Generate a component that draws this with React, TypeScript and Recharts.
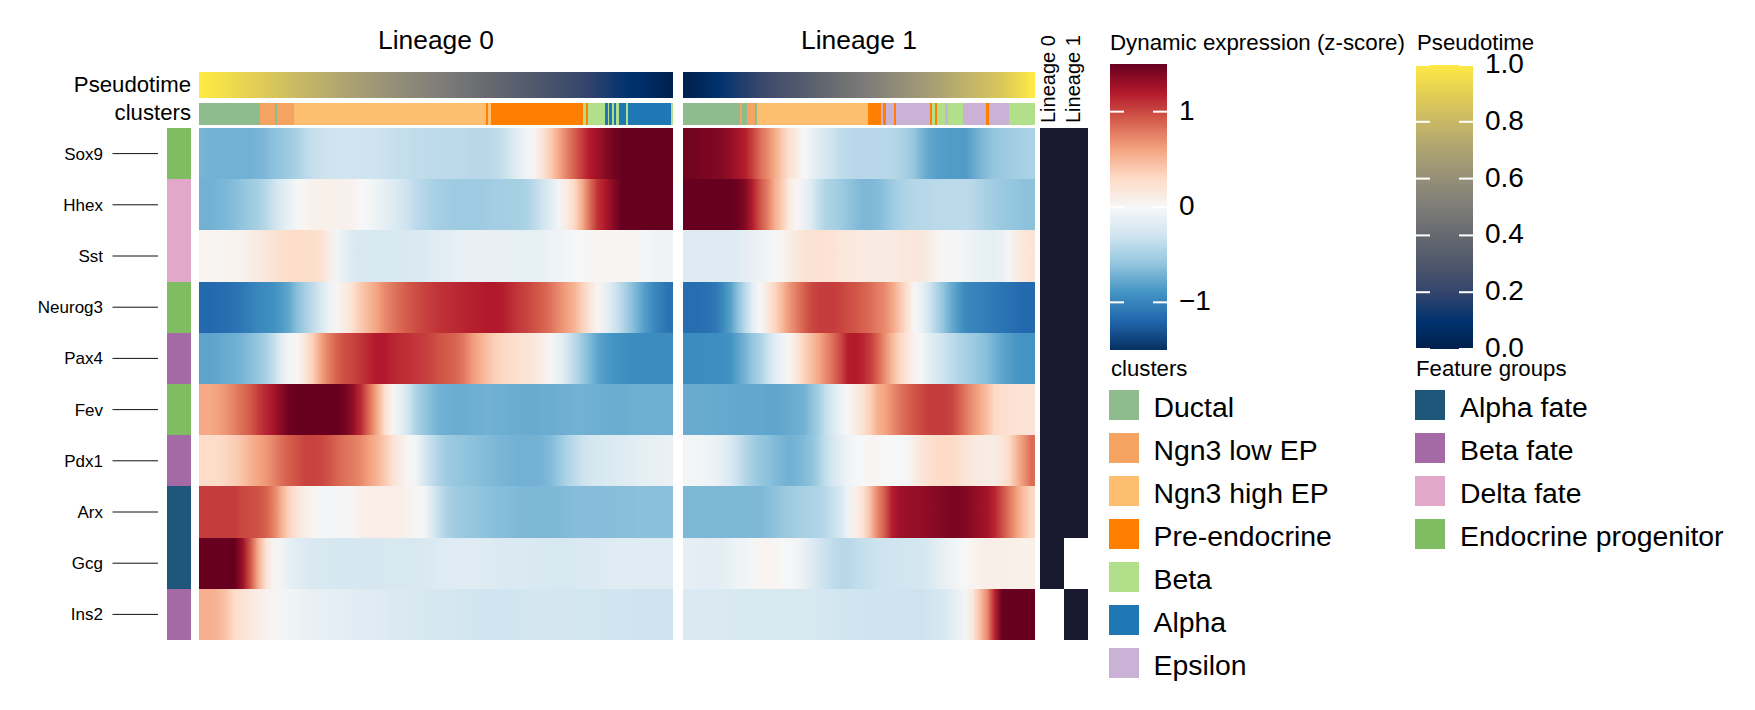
import { Bar, BarChart, Cell, XAxis, YAxis } from "recharts"

const genes = ["Sox9", "Hhex", "Sst", "Neurog3", "Pax4", "Fev", "Pdx1", "Arx", "Gcg", "Ins2"]

// z-scores, one row per gene, left to right
const lineage0 = [
  [-.70,-.72,-.72,-.72,-.72,-.72,-.72,-.70,-.67,-.62, -.58,-.54,-.48,-.40,-.35,-.33,-.31,-.30,-.30,-.30, -.31,-.31,-.32,-.33,-.35,-.36,-.37,-.38,-.38,-.39, -.40,-.40,-.40,-.41,-.42,-.42,-.42,-.40,-.35,-.25, -.14,-.05,.05,.20,.38,.58,.75,.90,1.05,1.20, 1.28,1.38,1.45,1.50,1.50,1.50,1.50,1.50,1.50,1.50],
  [-.72,-.72,-.70,-.68,-.64,-.60,-.55,-.50,-.42,-.32, -.20,-.10,-.02,.03,.07,.08,.08,.07,.07,.05, .00,-.03,-.08,-.14,-.20,-.26,-.32,-.40,-.44,-.48, -.52,-.53,-.54,-.54,-.54,-.54,-.53,-.52,-.52,-.51, -.50,-.47,-.40,-.30,-.18,-.05,.12,.30,.55,.85, 1.10,1.22,1.38,1.50,1.50,1.50,1.50,1.50,1.50,1.50],
  [.03,.03,.03,.04,.05,.07,.10,.14,.18,.22, .26,.28,.28,.28,.27,.24,.10,-.05,-.15,-.22, -.25,-.25,-.25,-.25,-.24,-.24,-.24,-.23,-.21,-.19, -.18,-.16,-.14,-.13,-.12,-.11,-.11,-.12,-.12,-.13, -.14,-.14,-.13,-.11,-.09,-.06,-.04,-.02,.00,.02, .03,.03,.03,.03,.03,.02,-.02,-.05,-.06,-.06],
  [-1.18,-1.18,-1.16,-1.15,-1.12,-1.08,-1.03,-.98,-.95,-.92, -.85,-.77,-.62,-.50,-.38,-.24,-.08,.03,.12,.25, .40,.50,.60,.72,.80,.87,.93,.98,1.02,1.06, 1.09,1.11,1.13,1.15,1.17,1.18,1.20,1.20,1.18,1.12, 1.06,1.02,.96,.90,.82,.72,.62,.52,.36,.18, .03,-.12,-.28,-.42,-.58,-.72,-.85,-.96,-1.05,-1.12],
  [-.80,-.80,-.78,-.75,-.74,-.70,-.64,-.58,-.50,-.36, -.14,-.04,.03,.18,.38,.62,.78,.90,.98,1.02, 1.08,1.14,1.20,1.20,1.15,1.12,1.10,1.07,1.04,1.00, .95,.92,.88,.80,.66,.55,.45,.36,.31,.27, .23,.20,.16,.10,.02,-.10,-.25,-.40,-.55,-.68, -.80,-.86,-.90,-.92,-.94,-.95,-.95,-.95,-.95,-.95],
  [.58,.58,.62,.68,.76,.85,.92,1.05,1.15,1.25, 1.38,1.48,1.50,1.50,1.50,1.50,1.50,1.50,1.44,1.32, 1.12,.85,.58,.26,.04,-.12,-.30,-.48,-.58,-.66, -.72,-.74,-.75,-.75,-.74,-.73,-.72,-.73,-.74,-.75, -.75,-.76,-.76,-.75,-.75,-.74,-.73,-.72,-.72,-.73, -.74,-.75,-.75,-.75,-.74,-.74,-.74,-.74,-.74,-.74],
  [.28,.28,.30,.33,.38,.44,.52,.60,.66,.75, .85,.92,.97,1.02,1.02,1.00,.95,.88,.82,.78, .72,.62,.52,.40,.22,.12,.02,-.05,-.25,-.38, -.48,-.55,-.58,-.60,-.62,-.64,-.66,-.68,-.70,-.71, -.72,-.72,-.72,-.70,-.66,-.58,-.48,-.40,-.33,-.28, -.25,-.23,-.21,-.20,-.18,-.16,-.14,-.12,-.11,-.10],
  [1.05,1.05,1.05,1.05,1.05,1.00,.98,.96,.90,.75, .52,.32,.18,.10,.03,-.02,-.03,-.03,-.02,.03, .08,.09,.10,.10,.10,.09,.06,.02,-.04,-.20, -.38,-.48,-.54,-.56,-.58,-.60,-.62,-.64,-.65,-.66, -.67,-.68,-.68,-.68,-.68,-.67,-.66,-.65,-.65,-.65, -.65,-.65,-.64,-.64,-.64,-.63,-.63,-.63,-.63,-.63],
  [1.50,1.50,1.50,1.50,1.50,1.30,.95,.55,.20,.03, -.06,-.14,-.18,-.21,-.24,-.25,-.25,-.26,-.27,-.26, -.26,-.26,-.26,-.25,-.25,-.25,-.25,-.25,-.24,-.22, -.20,-.19,-.18,-.18,-.19,-.20,-.20,-.21,-.22,-.22, -.23,-.23,-.24,-.24,-.24,-.25,-.25,-.24,-.23,-.22, -.21,-.20,-.19,-.19,-.18,-.18,-.18,-.18,-.18,-.18],
  [.55,.55,.50,.42,.28,.22,.16,.10,.06,.02, -.03,-.05,-.07,-.10,-.12,-.13,-.14,-.15,-.16,-.17, -.18,-.19,-.20,-.20,-.22,-.23,-.24,-.25,-.25,-.26, -.26,-.27,-.28,-.28,-.29,-.30,-.30,-.30,-.30,-.30, -.29,-.29,-.28,-.28,-.28,-.28,-.28,-.29,-.29,-.29, -.29,-.30,-.30,-.30,-.30,-.31,-.31,-.31,-.31,-.31],
]

const lineage1 = [
  [1.45,1.45,1.42,1.42,1.40,1.38,1.32,1.25,1.18,1.02, .85,.72,.58,.40,.24,.12,.00,-.10,-.20,-.26, -.32,-.38,-.40,-.42,-.42,-.42,-.42,-.42,-.44,-.46, -.52,-.58,-.70,-.78,-.82,-.84,-.85,-.85,-.85,-.78, -.70,-.64,-.58,-.56,-.54,-.52,-.50,-.48],
  [1.50,1.50,1.50,1.50,1.50,1.50,1.50,1.47,1.38,1.18, .95,.78,.55,.38,.12,.03,-.10,-.20,-.36,-.46, -.50,-.54,-.60,-.64,-.68,-.68,-.66,-.62,-.55,-.50, -.46,-.44,-.42,-.42,-.41,-.41,-.40,-.40,-.40,-.42, -.47,-.50,-.53,-.56,-.58,-.60,-.62,-.62],
  [-.20,-.20,-.20,-.20,-.20,-.20,-.20,-.18,-.15,-.11, -.08,-.05,-.02,.03,.10,.16,.21,.23,.23,.22, .20,.18,.16,.15,.14,.13,.13,.13,.14,.15, .17,.18,.17,.12,.05,.02,-.02,-.03,-.05,-.08, -.11,-.14,-.14,-.10,-.03,.12,.18,.20],
  [-1.15,-1.15,-1.14,-1.12,-1.08,-.96,-.82,-.62,-.40,-.15, -.02,.15,.32,.48,.66,.78,.90,1.00,1.04,1.05, 1.05,1.02,.98,.95,.90,.85,.78,.72,.60,.42, .25,.02,-.10,-.28,-.45,-.60,-.75,-.86,-.96,-1.00, -1.02,-1.05,-1.08,-1.10,-1.13,-1.16,-1.18,-1.18],
  [-.95,-.95,-.95,-.94,-.94,-.93,-.90,-.80,-.70,-.58, -.48,-.34,-.18,-.06,.02,.18,.34,.46,.58,.72, .85,1.00,1.18,1.20,1.15,1.05,.90,.70,.50,.32, .20,.04,-.02,-.14,-.24,-.32,-.38,-.45,-.50,-.55, -.60,-.65,-.72,-.80,-.84,-.88,-.90,-.90],
  [-.76,-.76,-.76,-.76,-.77,-.77,-.77,-.78,-.78,-.78, -.78,-.79,-.79,-.78,-.76,-.74,-.72,-.62,-.52,-.35, -.22,-.08,.00,.12,.22,.35,.52,.60,.70,.80, .88,.95,1.00,1.04,1.05,1.05,1.03,.92,.80,.68, .58,.45,.30,.26,.24,.22,.20,.20],
  [-.03,-.03,-.04,-.06,-.10,-.15,-.24,-.34,-.44,-.52, -.58,-.62,-.66,-.70,-.72,-.70,-.66,-.62,-.50,-.36, -.25,-.15,-.06,-.02,.00,.02,.03,.00,-.02,-.02, -.01,.10,.18,.24,.28,.30,.30,.26,.20,.16, .14,.12,.12,.18,.30,.50,.68,.85],
  [-.68,-.68,-.68,-.68,-.68,-.68,-.68,-.68,-.68,-.68, -.68,-.65,-.62,-.58,-.55,-.52,-.50,-.48,-.46,-.42, -.34,-.26,-.06,.10,.20,.45,.72,.92,1.18,1.28, 1.30,1.32,1.33,1.35,1.37,1.40,1.42,1.42,1.40,1.35, 1.30,1.25,1.15,.98,.80,.62,.45,.32],
  [-.14,-.15,-.16,-.16,-.16,-.15,-.10,-.07,-.05,-.03, .03,.04,.03,.00,-.02,-.05,-.12,-.20,-.28,-.34, -.38,-.42,-.42,-.38,-.36,-.34,-.32,-.31,-.30,-.30, -.29,-.28,-.27,-.24,-.18,-.12,-.08,-.04,.00,.04, .08,.10,.10,.09,.09,.08,.08,.08],
  [-.22,-.22,-.22,-.22,-.22,-.23,-.24,-.24,-.24,-.24, -.24,-.24,-.24,-.25,-.25,-.25,-.25,-.25,-.26,-.27, -.28,-.29,-.30,-.30,-.31,-.31,-.31,-.31,-.31,-.32, -.32,-.32,-.32,-.30,-.28,-.25,-.18,-.10,-.03,.15, .45,.72,1.15,1.50,1.50,1.50,1.50,1.50],
]

const pseudotime0 = [1,.985,.97,.955,.94,.92,.905,.89,.875,.855, .84,.82,.805,.79,.77,.755,.74,.72,.705,.69, .67,.655,.64,.62,.605,.59,.57,.555,.54,.52, .505,.49,.47,.455,.44,.42,.405,.39,.37,.355, .34,.32,.305,.29,.27,.255,.24,.22,.205,.19, .17,.155,.13,.115,.1,.085,.07,.05,.03,.01]
const pseudotime1 = [.01,.03,.05,.07,.09,.11,.13,.15,.17,.19, .21,.23,.25,.27,.29,.31,.33,.35,.37,.39, .41,.43,.45,.47,.49,.51,.53,.55,.57,.59, .61,.63,.65,.67,.69,.71,.73,.75,.77,.79, .81,.83,.85,.87,.9,.93,.96,1]

const clusterNames = ["Ductal", "Ngn3 low EP", "Ngn3 high EP", "Pre-endocrine", "Beta", "Alpha", "Epsilon"]
const clusterColors = ["#8fbc8f", "#f4a460", "#fdbf6f", "#ff7f00", "#b2df8a", "#1f78b4", "#cab2d6"]

// runs of cells along pseudotime: cluster index, then share of the strip
const clusterRuns0: [number, number][] = [[0,61],[1,15],[0,2],[1,17],[2,192],[3,2],[2,3],[3,92],[4,3],[3,2],[4,17],[5,3],[4,1.3],[5,3],[4,1.7],[5,2.3],[4,3],[5,7],[4,2],[5,43],[4,2]]
const clusterRuns1: [number, number][] = [[0,57],[1,2],[0,5],[1,8],[0,2],[2,111],[3,13],[6,2],[3,3],[6,8],[3,2],[6,34],[3,2],[4,3],[3,2],[4,8],[6,3],[4,15],[6,23],[3,3],[6,20],[4,26]]

const groupNames = ["Alpha fate", "Beta fate", "Delta fate", "Endocrine progenitor"]
const groupColors = ["#1f577b", "#a569a5", "#e1a8c9", "#7fbc62"]
const geneGroups = [3, 2, 2, 3, 1, 3, 1, 0, 0, 1]

const inLineage0 = [1, 1, 1, 1, 1, 1, 1, 1, 1, 0]
const inLineage1 = [1, 1, 1, 1, 1, 1, 1, 1, 0, 1]

const zTicks = [-1, 0, 1]
const ptTicks = [0, 0.2, 0.4, 0.6, 0.8, 1]

const rdbu = ["#053061", "#2166ac", "#4393c3", "#92c5de", "#d1e5f0", "#f7f7f7", "#fddbc7", "#f4a582", "#d6604d", "#b2182b", "#67001f"]
const cividis = ["#00204d", "#00326f", "#35456c", "#4e576c", "#666970", "#7d7c78", "#958f78", "#aca371", "#c8b866", "#e3cf54", "#ffe945"]

const FONT = "'Liberation Sans', Arial, sans-serif"

function hexToRgb(h: string) {
  return [1, 3, 5].map((i) => parseInt(h.slice(i, i + 2), 16))
}

// t in 0..1 along a list of evenly spaced colours
function sample(stops: string[], t: number) {
  const p = Math.max(0, Math.min(1, t)) * (stops.length - 1)
  const i = Math.min(Math.floor(p), stops.length - 2)
  const a = hexToRgb(stops[i])
  const b = hexToRgb(stops[i + 1])
  const c = a.map((v, k) => Math.round(v + (b[k] - v) * (p - i)))
  return `rgb(${c[0]},${c[1]},${c[2]})`
}

const zColor = (z: number) => sample(rdbu, (z + 1.5) / 3)
const ptColor = (v: number) => sample(cividis, v)

type GridProps = {
  id: string
  left: number
  top: number
  width: number
  height: number
  rows: string[]
  shares: number[]
  fills: string[][]
  smooth?: boolean
  yWidth?: number
  tick?: any
}

// slightly oversized so crisp cells never leave a hairline between them
const CellRect = ({ x, y, width, height, fill }: any) => (
  <rect x={x} y={y} width={width + 0.5} height={height + 0.5} fill={fill} />
)

// any block of cells: stacked bars, one Bar per column, one Cell per row.
// smooth blocks blend each row from cell to cell with a gradient across the plot
function Grid({ id, left, top, width, height, rows, shares, fills, smooth, yWidth, tick }: GridProps) {
  const data = rows.map((row) => {
    const d: Record<string, string | number> = { row }
    shares.forEach((s, c) => (d["c" + c] = s))
    return d
  })
  const total = shares.reduce((a, b) => a + b, 0)
  return (
    <div style={{ position: "absolute", left, top, shapeRendering: "crispEdges" }}>
      <BarChart width={width} height={height} data={data} layout="vertical" barCategoryGap={0} margin={{ top: 0, right: 0, bottom: 0, left: 0 }}>
        {smooth && (
          <defs>
            {rows.map((_, r) => (
              <linearGradient key={r} id={`${id}-${r}`} gradientUnits="userSpaceOnUse" x1={0} y1={0} x2={width} y2={0}>
                {fills[r].map((f, c) => (
                  <stop key={c} offset={(c + 0.5) / fills[r].length} stopColor={f} />
                ))}
              </linearGradient>
            ))}
          </defs>
        )}
        <XAxis type="number" domain={[0, total]} hide />
        <YAxis type="category" dataKey="row" hide={!tick} width={yWidth} tick={tick} tickLine={false} axisLine={false} interval={0} />
        {shares.map((_, c) => (
          <Bar key={c} dataKey={"c" + c} stackId="s" isAnimationActive={false} shape={CellRect}>
            {rows.map((_, r) => (
              <Cell key={r} fill={smooth ? `url(#${id}-${r})` : fills[r][c]} />
            ))}
          </Bar>
        ))}
      </BarChart>
    </div>
  )
}

function GeneTick({ y, payload }: any) {
  return (
    <g style={{ shapeRendering: "auto" }}>
      <text x={103} y={y + 6} textAnchor="end" fontSize={17} fontFamily={FONT} fill="#000">{payload.value}</text>
      <line x1={112.5} x2={158} y1={y} y2={y} stroke="#111" strokeWidth={1} />
    </g>
  )
}

type BarProps = { id: string; left: number; top: number; height: number; domain: [number, number]; ticks: number[]; stops: string[]; fmt: (v: number) => string }

function ColorBar({ id, left, top, height, domain, ticks, stops, fmt }: BarProps) {
  const W = 57
  const pad = 26
  const Tick = ({ y, payload }: any) => (
    <g>
      <rect x={0} y={y - 1} width={14} height={2} fill="#fff" />
      <rect x={W - 14} y={y - 1} width={14} height={2} fill="#fff" />
      <text x={W + 12} y={y + 8} fontSize={28} fontFamily={FONT} fill="#000">{fmt(payload.value)}</text>
    </g>
  )
  return (
    <div style={{ position: "absolute", left, top: top - pad }}>
      <BarChart width={W + 70} height={height + pad * 2} data={[{ name: id, span: domain }]} barCategoryGap={0} margin={{ top: pad, right: 0, bottom: pad, left: 0 }}>
        <defs>
          <linearGradient id={id} x1="0" y1="1" x2="0" y2="0">
            {stops.map((c, i) => (
              <stop key={i} offset={i / (stops.length - 1)} stopColor={c} />
            ))}
          </linearGradient>
        </defs>
        <XAxis dataKey="name" hide />
        <Bar dataKey="span" fill={`url(#${id})`} isAnimationActive={false} />
        <YAxis orientation="right" type="number" domain={domain} ticks={ticks} width={70} tick={<Tick />} tickLine={false} axisLine={false} interval={0} />
      </BarChart>
    </div>
  )
}

const legendTop = 390
const legendStep = 43

export default function App() {
  const featureFills = geneGroups.map((g) => [groupColors[g]])
  const memberFills = genes.map((_, r) => [inLineage0[r] ? "#18182f" : "#fff", inLineage1[r] ? "#18182f" : "#fff"])
  const label = { fontFamily: FONT, fill: "#000" }
  return (
    <div style={{ position: "absolute", left: 0, top: 0, width: 1755, height: 710, background: "#fff", overflow: "hidden" }}>
      <Grid id="pt0" smooth left={199} top={72} width={474} height={26} rows={["Pseudotime"]} shares={pseudotime0.map(() => 1)} fills={[pseudotime0.map(ptColor)]} />
      <Grid id="pt1" smooth left={683} top={72} width={352} height={26} rows={["Pseudotime"]} shares={pseudotime1.map(() => 1)} fills={[pseudotime1.map(ptColor)]} />
      <Grid id="cl0" left={199} top={103} width={474} height={22} rows={["clusters"]} shares={clusterRuns0.map((r) => r[1])} fills={[clusterRuns0.map((r) => clusterColors[r[0]])]} />
      <Grid id="cl1" left={683} top={103} width={352} height={22} rows={["clusters"]} shares={clusterRuns1.map((r) => r[1])} fills={[clusterRuns1.map((r) => clusterColors[r[0]])]} />

      <Grid id="fg" left={0} top={128} width={191} height={512} rows={genes} shares={[1]} fills={featureFills} yWidth={167} tick={<GeneTick />} />
      <Grid id="h0" smooth left={199} top={128} width={474} height={512} rows={genes} shares={lineage0[0].map(() => 1)} fills={lineage0.map((r) => r.map(zColor))} />
      <Grid id="h1" smooth left={683} top={128} width={352} height={512} rows={genes} shares={lineage1[0].map(() => 1)} fills={lineage1.map((r) => r.map(zColor))} />
      <Grid id="mb" left={1040} top={128} width={48} height={512} rows={genes} shares={[1, 1]} fills={memberFills} />

      <ColorBar id="zbar" left={1110} top={64} height={286} domain={[-1.5, 1.5]} ticks={zTicks} stops={rdbu} fmt={(v) => String(v).replace("-", "\u2212")} />
      <ColorBar id="ptbar" left={1416} top={65} height={284} domain={[0, 1]} ticks={ptTicks} stops={cividis} fmt={(v) => v.toFixed(1)} />

      <svg width={1755} height={710} style={{ position: "absolute", left: 0, top: 0, pointerEvents: "none" }}>
        <text x={436} y={49} fontSize={26.4} textAnchor="middle" {...label}>Lineage 0</text>
        <text x={859} y={49} fontSize={26.4} textAnchor="middle" {...label}>Lineage 1</text>
        <text x={191} y={92} fontSize={22.2} textAnchor="end" {...label}>Pseudotime</text>
        <text x={191} y={120} fontSize={22.2} textAnchor="end" {...label}>clusters</text>
        <text transform="translate(1055,123) rotate(-90)" fontSize={20} {...label}>Lineage 0</text>
        <text transform="translate(1080,123) rotate(-90)" fontSize={20} {...label}>Lineage 1</text>
        <text x={1110} y={50} fontSize={22.3} {...label}>Dynamic expression (z-score)</text>
        <text x={1417} y={50} fontSize={22.2} {...label}>Pseudotime</text>
        <text x={1111} y={376} fontSize={22.2} {...label}>clusters</text>
        <text x={1416} y={376} fontSize={22.2} {...label}>Feature groups</text>
        {clusterNames.map((n, i) => (
          <g key={n}>
            <rect x={1109} y={legendTop + i * legendStep} width={30} height={30} fill={clusterColors[i]} />
            <text x={1153.5} y={legendTop + i * legendStep + 27} fontSize={28.4} {...label}>{n}</text>
          </g>
        ))}
        {groupNames.map((n, i) => (
          <g key={n}>
            <rect x={1415} y={legendTop + i * legendStep} width={30} height={30} fill={groupColors[i]} />
            <text x={1460} y={legendTop + i * legendStep + 27} fontSize={28.4} {...label}>{n}</text>
          </g>
        ))}
      </svg>
    </div>
  )
}
